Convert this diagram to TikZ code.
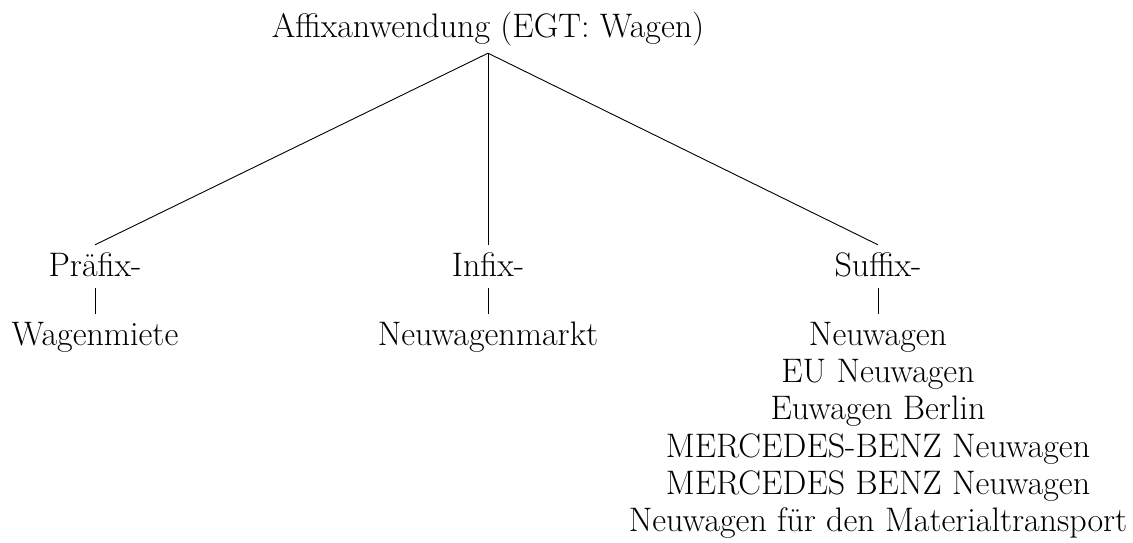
\documentclass[tikz,border=0pt]{standalone}
\begin{document}
\begin{tikzpicture}[x=1pt,y=-1pt,
  labfont/.style={font=\fontsize{34}{37.2}\selectfont, inner xsep=0pt, inner ysep=8pt},
  lab/.style={labfont, text height=23pt, text depth=4pt, anchor=base},
  stack/.style={labfont, align=center, anchor=north},
  edge/.style={line width=0.9pt}]
\useasboundingbox (0,0) rectangle (1133,542);
\node[lab, text depth=8pt] (root) at (488,37) {Affixanwendung (EGT: Wagen)};
\node[lab] (pre) at (95,276) {Präfix-};
\node[lab] (preL) at (95,345) {Wagenmiete};
\node[lab] (inf) at (488,276) {Infix-};
\node[lab] (infL) at (488,345) {Neuwagenmarkt};
\node[lab] (suf) at (878,276) {Suffix-};
\node[stack] (sufL) at (878,314) {Neuwagen\\EU Neuwagen\\Euwagen Berlin\\MERCEDES-BENZ Neuwagen\\MERCEDES BENZ Neuwagen\\Neuwagen für den Materialtransport};
\draw[edge] (root.south) -- (pre.north);
\draw[edge] (root.south) -- (inf.north);
\draw[edge] (root.south) -- (suf.north);
\draw[edge] (pre.south) -- (preL.north);
\draw[edge] (inf.south) -- (infL.north);
\draw[edge] (suf.south) -- (sufL.north);
\end{tikzpicture}
\end{document}
